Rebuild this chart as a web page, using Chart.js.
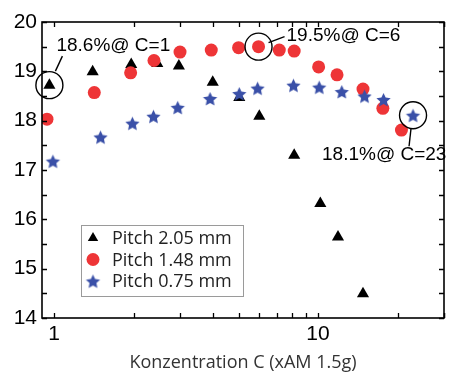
<!DOCTYPE html>
<html>
<head>
<meta charset="utf-8">
<script src="https://cdn.jsdelivr.net/npm/chart.js@4/dist/chart.umd.min.js"></script>
<style>
  html, body { margin: 0; padding: 0; background: #fff; }
  #c { display: block; }
</style>
</head>
<body>
<canvas id="c" width="451" height="376" style="width:451px;height:376px"></canvas>
<script>
// ---- Data ----
const seriesLabels = ['Pitch 2.05 mm', 'Pitch 1.48 mm', 'Pitch 0.75 mm'];

const pitch205C   = [0.96, 1.40, 1.96, 2.46, 2.97, 3.99, 5.03, 5.99, 8.12, 10.2, 11.9, 14.8];
const pitch205Eff = [18.72, 18.99, 19.14, 19.16, 19.11, 18.78, 18.47, 18.09, 17.30, 16.32, 15.64, 14.49];

const pitch148C   = [0.94, 1.42, 1.95, 2.39, 3.00, 3.94, 5.00, 5.95, 7.13, 8.12, 10.05, 11.8, 14.8, 17.6, 20.7];
const pitch148Eff = [18.03, 18.57, 18.97, 19.22, 19.39, 19.43, 19.48, 19.50, 19.43, 19.41, 19.09, 18.93, 18.64, 18.25, 17.81];

const pitch075C   = [0.99, 1.50, 1.98, 2.38, 2.94, 3.90, 5.03, 5.90, 8.07, 10.1, 12.3, 15.0, 17.7, 22.9];
const pitch075Eff = [17.18, 17.67, 17.95, 18.09, 18.27, 18.45, 18.55, 18.66, 18.72, 18.68, 18.59, 18.50, 18.43, 18.11];

const xTickValues = [1, 10];
const yTickMin = 14, yTickMax = 20;
const xTitle = 'Konzentration C (xAM 1.5g)';

// annotations: [series index, point index, label]
const annotations = [
  { series: 0, point: 0,  text: '18.6%@ C=1' },
  { series: 1, point: 7,  text: '19.5%@ C=6' },
  { series: 2, point: 13, text: '18.1%@ C=23' }
];

// ---- Helpers ----
function makeStar(r, color) {
  const c = document.createElement('canvas');
  const s = Math.ceil(r * 2 + 2);
  c.width = s; c.height = s;
  const g = c.getContext('2d');
  g.fillStyle = color;
  g.beginPath();
  for (let i = 0; i < 10; i++) {
    const rad = (i % 2) ? r * 0.48 : r;
    const a = -Math.PI / 2 + i * Math.PI / 5;
    g.lineTo(s / 2 + rad * Math.cos(a), s / 2 + 1 + rad * Math.sin(a));
  }
  g.closePath();
  g.fill();
  return c;
}

const RED = '#ee3537', BLUE = '#3a50a8', BLACK = '#000000';
const starImg = makeStar(7.5, BLUE);

function pts(xs, ys) { return xs.map((x, i) => ({ x: x, y: ys[i] })); }

const datasets = [
  { label: seriesLabels[0], data: pts(pitch205C, pitch205Eff), pointStyle: 'triangle',
    pointRadius: 7, backgroundColor: BLACK, borderColor: BLACK, borderWidth: 0, order: 3 },
  { label: seriesLabels[1], data: pts(pitch148C, pitch148Eff), pointStyle: 'circle',
    pointRadius: 6.5, backgroundColor: RED, borderColor: RED, borderWidth: 0, order: 2 },
  { label: seriesLabels[2], data: pts(pitch075C, pitch075Eff), pointStyle: starImg,
    pointRadius: 7, backgroundColor: BLUE, borderColor: BLUE, borderWidth: 0, order: 1 }
];

// Frame + inward ticks
const framePlugin = {
  id: 'frame',
  afterDatasetsDraw(chart) {
    const { ctx, chartArea: a, scales } = chart;
    const xs = scales.x, ys = scales.y;
    ctx.save();
    ctx.strokeStyle = '#000';
    ctx.lineWidth = 1.3;
    for (let v = yTickMin; v <= yTickMax + 1e-9; v += 0.5) {
      const py = Math.round(ys.getPixelForValue(v)) + 0.5;
      ctx.beginPath();
      ctx.moveTo(a.left, py); ctx.lineTo(a.left + 5, py);
      ctx.moveTo(a.right, py); ctx.lineTo(a.right - 5, py);
      ctx.stroke();
    }
    const xt = [];
    for (let d = 1; d <= 10; d *= 10) for (let m = 1; m <= 9; m++) xt.push(m * d);
    xt.push(30);
    xt.forEach(v => {
      if (v < xs.min || v > xs.max) return;
      const px = Math.round(xs.getPixelForValue(v)) + 0.5;
      ctx.beginPath();
      ctx.moveTo(px, a.bottom); ctx.lineTo(px, a.bottom - 5);
      ctx.moveTo(px, a.top); ctx.lineTo(px, a.top + 5);
      ctx.stroke();
    });
    ctx.lineWidth = 1.6;
    ctx.strokeRect(a.left, a.top, a.right - a.left, a.bottom - a.top);
    ctx.restore();
  }
};

// Annotations (circles, leader lines, texts) and legend
const overlayPlugin = {
  id: 'overlay',
  afterDraw(chart) {
    const { ctx, scales } = chart;
    const xs = scales.x, ys = scales.y;
    ctx.save();
    ctx.strokeStyle = '#000';
    ctx.fillStyle = '#000';
    ctx.lineWidth = 1.4;
    ctx.font = '19px "Liberation Sans", Arial, sans-serif';
    ctx.textBaseline = 'middle';
    ctx.textAlign = 'left';
    const srcX = [pitch205C, pitch148C, pitch075C];
    const srcY = [pitch205Eff, pitch148Eff, pitch075Eff];
    const lay = [
      { tx: 7,   ty: -39, l: [6, -14, 13, -29] },
      { tx: 28,  ty: -11, l: [10, -4, 26, -10] },
      { tx: -91, ty: 40,  l: [-2, 13, -4, 31] }
    ];
    annotations.forEach((an, k) => {
      const px = xs.getPixelForValue(srcX[an.series][an.point]);
      const py = ys.getPixelForValue(srcY[an.series][an.point]);
      const L = lay[k];
      ctx.beginPath();
      ctx.arc(px, py, 13.5, 0, Math.PI * 2);
      ctx.stroke();
      ctx.beginPath();
      ctx.moveTo(px + L.l[0], py + L.l[1]);
      ctx.lineTo(px + L.l[2], py + L.l[3]);
      ctx.stroke();
      ctx.fillText(an.text, px + L.tx, py + L.ty);
    });

    // Legend box
    const bx = 81.5, by = 225.5, bw = 162, bh = 71;
    ctx.fillStyle = '#fff';
    ctx.fillRect(bx, by, bw, bh);
    ctx.strokeStyle = '#9a9a9a';
    ctx.lineWidth = 1;
    ctx.strokeRect(bx, by, bw, bh);
    const rows = [238, 259.5, 281];
    ctx.font = '18px "Open Sans", sans-serif';
    chart.data.datasets.forEach((ds, i) => {
      const y = rows[i];
      ctx.fillStyle = ds.backgroundColor;
      ctx.beginPath();
      if (i === 0) {
        const r = 6;
        ctx.moveTo(93, y - r);
        ctx.lineTo(93 + r * 0.866, y + r * 0.5);
        ctx.lineTo(93 - r * 0.866, y + r * 0.5);
        ctx.closePath();
        ctx.fill();
      } else if (i === 1) {
        ctx.arc(93, y, 6.5, 0, Math.PI * 2);
        ctx.fill();
      } else {
        Chart.helpers.drawPoint(ctx, { pointStyle: ds.pointStyle, radius: 7, rotation: 0, borderWidth: 0 }, 93, y);
      }
      ctx.fillStyle = '#222';
      ctx.fillText(ds.label, 112, y + 1);
    });
    ctx.restore();
  }
};

new Chart(document.getElementById('c'), {
  type: 'scatter',
  data: { datasets: datasets },
  plugins: [framePlugin, overlayPlugin],
  options: {
    responsive: false,
    animation: false,
    layout: { padding: { left: 0, right: 7, top: 22, bottom: 0 } },
    plugins: { legend: { display: false }, tooltip: { enabled: false } },
    scales: {
      x: {
        type: 'logarithmic',
        min: 0.9, max: 30,
        grid: { display: false, drawTicks: false },
        border: { display: false },
        afterBuildTicks(scale) { scale.ticks = xTickValues.map(v => ({ value: v })); },
        afterFit(scale) { scale.height = 58; },
        ticks: {
          padding: 4,
          color: '#000',
          font: { family: '"Liberation Sans", Arial, sans-serif', size: 21 },
          callback: (v) => String(v),
          autoSkip: false, maxRotation: 0
        },
        title: {
          display: true, text: xTitle, color: '#333',
          font: { family: '"Open Sans", sans-serif', size: 18 },
          padding: { top: 2, bottom: 2 }
        }
      },
      y: {
        min: yTickMin, max: yTickMax,
        grid: { display: false, drawTicks: false },
        border: { display: false },
        afterFit(scale) { scale.width = 42; },
        ticks: {
          stepSize: 1, padding: 5, color: '#000',
          font: { family: '"Liberation Sans", Arial, sans-serif', size: 21 }
        }
      }
    }
  }
});
</script>
</body>
</html>
